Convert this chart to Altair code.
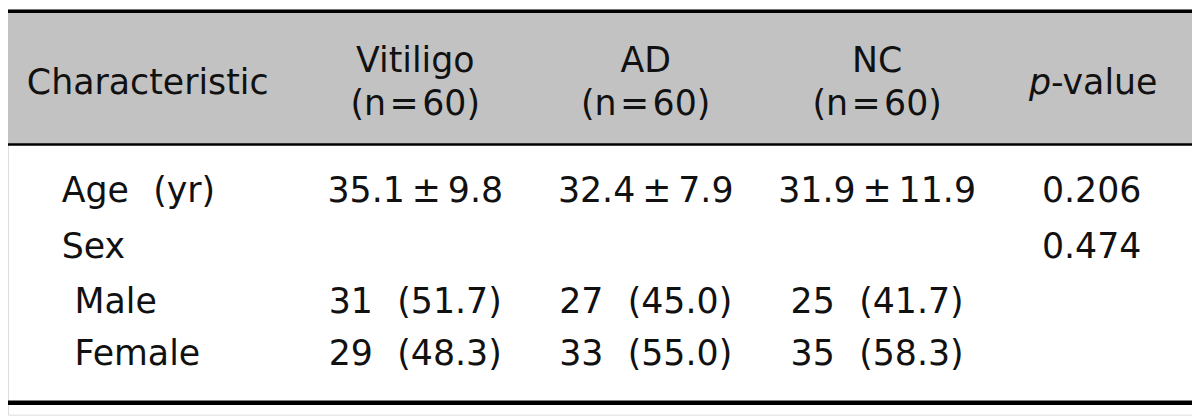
import altair as alt
import pandas as pd

# ---- table content ----
columns = ["Characteristic", "Vitiligo", "AD", "NC", "p-value"]
header_line1 = ["Characteristic", "Vitiligo", "AD", "NC", "p-value"]
header_line2 = ["", "(n\u200a=\u200a60)", "(n\u200a=\u200a60)", "(n\u200a=\u200a60)", ""]
row_labels = ["Age\u2002\u2009(yr)", "Sex", "Male", "Female"]
row_indent = [False, False, True, True]
vitiligo = ["35.1\u2009±\u20099.8", "", "31\u2002\u2009(51.7)", "29\u2002\u2009(48.3)"]
ad = ["32.4\u2009±\u20097.9", "", "27\u2002\u2009(45.0)", "33\u2002\u2009(55.0)"]
nc = ["31.9\u2009±\u200911.9", "", "25\u2002\u2009(41.7)", "35\u2002\u2009(58.3)"]
p_values = ["0.206", "0.474", "", ""]

# ---- layout (page pixel coordinates) ----
W, H = 1200, 416
M = 8
FONT = "DejaVu Sans"
FS = 35
COL_X = {"Characteristic": 27, "Vitiligo": 418, "AD": 650, "NC": 883, "p-value": 1099}
LABEL_X = 62
INDENT_X = 75
HEAD_Y1, HEAD_Y2, HEAD_MID = 60, 103, 82
ROW_Y = [191, 247, 303, 355]
TOP_Y, HEAD_BOT_Y, BOT_Y = 10, 144, 404
P_SPLIT = 1058

xs = alt.Scale(domain=[M, W], range=[0, W - M])
ys = alt.Scale(domain=[M, H], range=[0, H - M])

def X(f="x"):
    return alt.X(f"{f}:Q", scale=xs, axis=None)

def Y(f="y"):
    return alt.Y(f"{f}:Q", scale=ys, axis=None)

# header band
band = alt.Chart(pd.DataFrame({"x": [0], "x2": [W], "y": [TOP_Y], "y2": [HEAD_BOT_Y]})).mark_rect(
    color="#c2c2c2"
).encode(x=X(), x2="x2:Q", y=Y(), y2="y2:Q")

rules_df = pd.DataFrame({
    "x": [0, 0, 0], "x2": [W, W, W],
    "y": [TOP_Y, HEAD_BOT_Y, BOT_Y],
    "w": [3.5, 2.5, 4.5],
})
rules = alt.Chart(rules_df).mark_rule(color="#000000").encode(
    x=X(), x2="x2:Q", y=Y(), strokeWidth=alt.StrokeWidth("w:Q", scale=None)
)

# header text
head_rows = []
for c, l1, l2 in zip(columns, header_line1, header_line2):
    if c == "p-value":
        continue
    if l2:
        head_rows.append({"x": COL_X[c], "y": HEAD_Y1, "t": l1, "a": "center"})
        head_rows.append({"x": COL_X[c], "y": HEAD_Y2, "t": l2, "a": "center"})
    else:
        head_rows.append({"x": COL_X[c], "y": HEAD_MID, "t": l1, "a": "left"})
hdf = pd.DataFrame(head_rows)

TXT = dict(font=FONT, fontSize=FS, baseline="middle", color="#111111")

head_center = alt.Chart(hdf[hdf.a == "center"]).mark_text(align="center", **TXT).encode(
    x=X(), y=Y(), text="t:N")
head_left = alt.Chart(hdf[hdf.a == "left"]).mark_text(align="left", **TXT).encode(
    x=X(), y=Y(), text="t:N")

pv = header_line1[4]
p_italic = alt.Chart(pd.DataFrame({"x": [P_SPLIT], "y": [HEAD_MID], "t": [pv[0]]})).mark_text(
    fontStyle="italic", align="right", **TXT
).encode(x=X(), y=Y(), text="t:N")
p_rest = alt.Chart(pd.DataFrame({"x": [P_SPLIT], "y": [HEAD_MID], "t": [pv[1:]]})).mark_text(
    align="left", **TXT
).encode(x=X(), y=Y(), text="t:N")

# body labels
lab_df = pd.DataFrame({
    "x": [INDENT_X if ind else LABEL_X for ind in row_indent],
    "y": ROW_Y,
    "t": row_labels,
})
labels = alt.Chart(lab_df).mark_text(align="left", **TXT).encode(x=X(), y=Y(), text="t:N")

# body cells
cells = []
for c, vals in zip(columns[1:], [vitiligo, ad, nc, p_values]):
    for yv, v in zip(ROW_Y, vals):
        if v:
            cells.append({"x": COL_X[c], "y": yv, "t": v})
cdf = pd.DataFrame(cells)
body = alt.Chart(cdf).mark_text(align="center", **TXT).encode(x=X(), y=Y(), text="t:N")

chart = alt.layer(band, rules, head_center, head_left, p_italic, p_rest, labels, body).properties(
    width=W - M, height=H - M, padding=0, autosize=alt.AutoSizeParams(type="none")
).configure_view(stroke=None).configure(background="#ffffff")

chart.save("out.html", embed_options={"renderer": "svg", "actions": False})
